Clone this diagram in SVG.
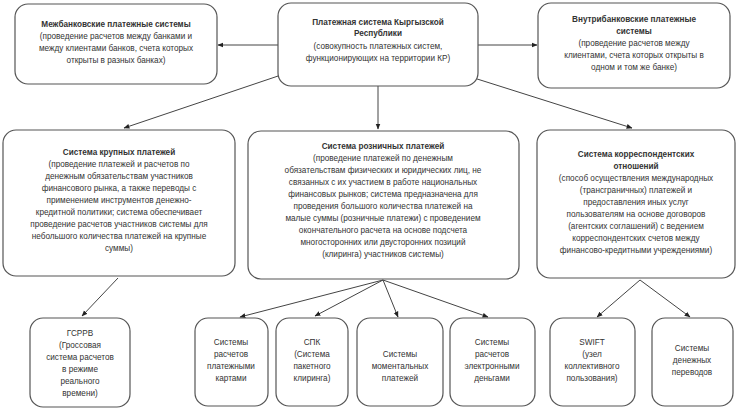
<svg xmlns="http://www.w3.org/2000/svg" width="740" height="410" viewBox="0 0 740 410">
<style>
.b{fill:#fff;stroke:#555;stroke-width:1.2}
text{font-family:"Liberation Sans",Arial,sans-serif;font-size:8.2px;fill:#333;text-anchor:middle}
.h{font-weight:bold}
.c{stroke:#444;stroke-width:1;fill:none;marker-end:url(#a)}
</style>
<defs><marker id="a" viewBox="0 0 10 10" refX="9" refY="5" markerWidth="6" markerHeight="6" orient="auto"><path d="M0,1L10,5L0,9z" fill="#222"/></marker></defs>
<rect width="740" height="410" fill="#fff"/>
<g id="connectors">
<path class="c" d="M278,45H218"/>
<path class="c" d="M478,45H537"/>
<path class="c" d="M290,72L124,128"/>
<path class="c" d="M378,86V129"/>
<path class="c" d="M474,78L632,128"/>
<path class="c" d="M118,278L82,316"/>
<path class="c" d="M383,280L240,317"/>
<path class="c" d="M383,280L315,316"/>
<path class="c" d="M383,280L398,317"/>
<path class="c" d="M383,280L488,317"/>
<path class="c" d="M640,280L597,317"/>
<path class="c" d="M640,280L690,317"/>
</g>
<g id="interbank"><rect class="b" x="15" y="4" width="202" height="80" rx="13"/>
<text x="116" y="27" class="h">Межбанковские платежные системы</text>
<text x="116" y="39">(проведение расчетов между банками и</text>
<text x="116" y="51">между клиентами банков, счета которых</text>
<text x="116" y="63">открыты в разных банках)</text></g>
<g id="root"><rect class="b" x="278" y="3" width="200" height="83" rx="13"/>
<text x="378" y="25" class="h">Платежная система Кыргызской</text>
<text x="378" y="36" class="h">Республики</text>
<text x="378" y="49">(совокупность платежных систем,</text>
<text x="378" y="61">функционирующих на территории КР)</text></g>
<g id="intrabank"><rect class="b" x="538" y="3" width="192" height="85" rx="13"/>
<text x="634" y="22" class="h">Внутрибанковские платежные</text>
<text x="634" y="34" class="h">системы</text>
<text x="634" y="46">(проведение расчетов между</text>
<text x="634" y="58">клиентами, счета которых открыты в</text>
<text x="634" y="70">одном и том же банке)</text></g>
<g id="large"><rect class="b" x="3" y="130" width="232" height="146" rx="13"/>
<text x="119" y="155" class="h">Система крупных платежей</text>
<text x="119" y="167">(проведение платежей и расчетов по</text>
<text x="119" y="179">денежным обязательствам участников</text>
<text x="119" y="191">финансового рынка, а также переводы с</text>
<text x="119" y="203">применением инструментов денежно-</text>
<text x="119" y="215">кредитной политики; система обеспечивает</text>
<text x="119" y="227">проведение расчетов участников системы для</text>
<text x="119" y="239">небольшого количества платежей на крупные</text>
<text x="119" y="251">суммы)</text></g>
<g id="retail"><rect class="b" x="248" y="131" width="271" height="148" rx="13"/>
<text x="383" y="149" class="h">Система розничных платежей</text>
<text x="383" y="161">(проведение платежей по денежным</text>
<text x="383" y="173">обязательствам физических и юридических лиц, не</text>
<text x="383" y="185">связанных с их участием в работе национальных</text>
<text x="383" y="197">финансовых рынков; система предназначена для</text>
<text x="383" y="209">проведения большого количества платежей на</text>
<text x="383" y="221">малые суммы (розничные платежи) с проведением</text>
<text x="383" y="233">окончательного расчета на основе подсчета</text>
<text x="383" y="245">многосторонних или двусторонних позиций</text>
<text x="383" y="257">(клиринга) участников системы)</text></g>
<g id="corr"><rect class="b" x="537" y="130" width="198" height="148" rx="13"/>
<text x="636" y="157" class="h">Система корреспондентских</text>
<text x="636" y="169" class="h">отношений</text>
<text x="636" y="181">(способ осуществления международных</text>
<text x="636" y="193">(трансграничных) платежей и</text>
<text x="636" y="205">предоставления иных услуг</text>
<text x="636" y="217">пользователям на основе договоров</text>
<text x="636" y="229">(агентских соглашений) с ведением</text>
<text x="636" y="241">корреспондентских счетов между</text>
<text x="636" y="253">финансово-кредитными учреждениями)</text></g>
<g id="gsrrv"><rect class="b" x="30" y="318" width="100" height="89" rx="13"/>
<text x="80" y="336">ГСРРВ</text><text x="80" y="348">(Гроссовая</text><text x="80" y="360">система расчетов</text><text x="80" y="372">в режиме</text><text x="80" y="384">реального</text><text x="80" y="396">времени)</text></g>
<g id="cards"><rect class="b" x="195" y="318" width="73" height="88" rx="13"/>
<text x="231" y="345">Системы</text><text x="231" y="357">расчетов</text><text x="231" y="369">платежными</text><text x="231" y="381">картами</text></g>
<g id="spk"><rect class="b" x="276" y="318" width="72" height="88" rx="13"/>
<text x="312" y="345">СПК</text><text x="312" y="357">(Система</text><text x="312" y="369">пакетного</text><text x="312" y="381">клиринга)</text></g>
<g id="instant"><rect class="b" x="357" y="318" width="86" height="88" rx="13"/>
<text x="400" y="357">Системы</text><text x="400" y="369">моментальных</text><text x="400" y="381">платежей</text></g>
<g id="emoney"><rect class="b" x="450" y="318" width="85" height="88" rx="13"/>
<text x="492" y="345">Системы</text><text x="492" y="357">расчетов</text><text x="492" y="369">электронными</text><text x="492" y="381">деньгами</text></g>
<g id="swift"><rect class="b" x="550" y="318" width="85" height="88" rx="13"/>
<text x="592" y="345">SWIFT</text><text x="592" y="357">(узел</text><text x="592" y="369">коллективного</text><text x="592" y="381">пользования)</text></g>
<g id="transfers"><rect class="b" x="652" y="318" width="81" height="88" rx="13"/>
<text x="692" y="351">Системы</text><text x="692" y="363">денежных</text><text x="692" y="375">переводов</text></g>
</svg>
